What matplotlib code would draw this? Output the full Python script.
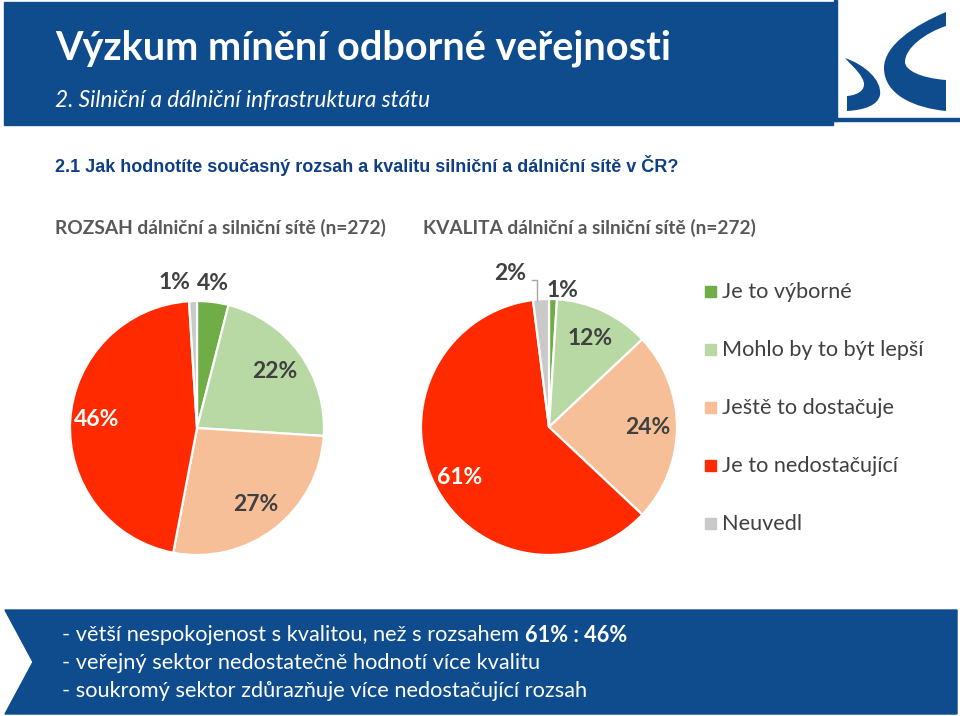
import matplotlib
matplotlib.use("Agg")
import numpy as np
import matplotlib.pyplot as plt
from matplotlib.patches import Rectangle, Polygon, PathPatch
from matplotlib.path import Path

# data
categories = ["Je to výborné", "Mohlo by to být lepší", "Ještě to dostačuje",
              "Je to nedostačující", "Neuvedl"]
colors = ["#70AD47", "#B8D9A4", "#F7BF98", "#FF2A00", "#C9C9C9"]
rozsah = [4, 22, 27, 46, 1]
kvalita = [1, 12, 24, 61, 2]
rozsah_title = "ROZSAH dálniční a silniční sítě (n=272)"
kvalita_title = "KVALITA dálniční a silniční sítě (n=272)"
notes = ["- větší nespokojenost s kvalitou, než s rozsahem ",
         "- veřejný sektor nedostatečně hodnotí více kvalitu",
         "- soukromý sektor zdůrazňuje více nedostačující rozsah"]
note_bold = "61% : 46%"

BLUE = "#0E4C8E"
W, H = 960, 716

fig = plt.figure(figsize=(9.6, 7.16), dpi=100)
bg = fig.add_axes([0, 0, 1, 1])
bg.set_xlim(0, W)
bg.set_ylim(H, 0)
bg.axis("off")

# header
bg.add_patch(Rectangle((4, 2), 829, 123, color=BLUE))
bg.text(55, 48, "Výzkum mínění odborné veřejnosti", color="white", fontsize=28.5,
        fontweight="bold", family="Lato", va="center")
bg.text(55, 100, "2. Silniční a dálniční infrastruktura státu", color="white",
        fontsize=16.3, style="italic", family="Lato", va="center")

# logo
bg.add_patch(Rectangle((834, 0), 3, 121, color=BLUE))
bg.add_patch(Rectangle((834, 118), 126, 3, color=BLUE))
c_verts = [(946, 12), (915, 25), (884, 45), (884, 68), (884, 95), (915, 108), (946, 111),
           (946, 80), (920, 78), (905, 70), (905, 62), (905, 48), (925, 33), (946, 26), (946, 12)]
c_codes = [Path.MOVETO] + [Path.CURVE4] * 6 + [Path.LINETO] + [Path.CURVE4] * 6 + [Path.CLOSEPOLY]
bg.add_patch(PathPatch(Path(c_verts, c_codes), color=BLUE, lw=0))
s_verts = [(845, 58), (865, 65), (882, 80), (880, 95), (878, 105), (865, 110), (847, 111),
           (847, 96), (860, 95), (868, 88), (862, 78), (858, 70), (850, 64), (845, 58), (845, 58)]
bg.add_patch(PathPatch(Path(s_verts, c_codes), color=BLUE, lw=0))

# question + pie titles
bg.text(55, 165, "2.1 Jak hodnotíte současný rozsah a kvalitu silniční a dálniční sítě v ČR?",
        color="#0E3F85", fontsize=13, fontweight="bold", family="Liberation Sans", va="center")
bg.text(55, 228, rozsah_title, color="#595959", fontsize=13.8, fontweight="bold",
        family="Lato", va="center")
bg.text(423, 228, kvalita_title, color="#595959", fontsize=13.8, fontweight="bold",
        family="Lato", va="center")


def draw_pie(cx, cy, r, values, lab_r, lab_dx, lab_dy, lab_col):
    ax = fig.add_axes([(cx - r) / W, (H - cy - r) / H, 2 * r / W, 2 * r / H])
    wedges, _ = ax.pie(values, colors=colors, startangle=90, counterclock=False,
                       wedgeprops=dict(edgecolor="white", linewidth=1.6))
    ax.set_xlim(-1, 1)
    ax.set_ylim(-1, 1)
    spots = []
    for w, v, rr, dx, dy, c in zip(wedges, values, lab_r, lab_dx, lab_dy, lab_col):
        mid = np.deg2rad((w.theta1 + w.theta2) / 2)
        x = rr * np.cos(mid) + dx
        y = rr * np.sin(mid) + dy
        ax.text(x, y, f"{v}%", ha="center", va="center", color=c, fontsize=16.5,
                fontweight="bold", family="Lato", clip_on=False)
        spots.append((x, y, mid))
    return ax, spots


dark = "#404040"
draw_pie(197, 428, 127, rozsah,
         [1.15, 0.76, 0.76, 0.79, 1.15], [-0.02, 0, 0, 0, -0.14], [0, 0, 0, 0.02, 0],
         [dark, dark, dark, "white", dark])
ax2, spots2 = draw_pie(549, 427, 128, kvalita,
                       [1.07, 0.76, 0.77, 0.78, 1.2], [0.075, 0, 0, 0, -0.23],
                       [0, 0, 0, -0.04, 0],
                       [dark, dark, dark, "white", dark])
# leader line for the 2% label
lx, ly, lmid = spots2[4]
ax_x = np.cos(lmid) * 1.0 - 0.03
ax2.plot([lx + 0.17, ax_x, ax_x], [ly - 0.05, ly - 0.05, 0.99], color="#A6A6A6",
         lw=1, clip_on=False)

# legend
for i, (cat, col) in enumerate(zip(categories, colors)):
    y = 292 + i * 58
    bg.add_patch(Rectangle((705, y - 6), 11, 11, color=col))
    bg.text(722, y, cat, color=dark, fontsize=15.6, family="Lato", va="center")

# bottom box with notch
bg.add_patch(Polygon([(5, 610), (957, 610), (957, 714), (5, 714), (33, 662)],
                     closed=True, color=BLUE))
note_font = dict(color="white", fontsize=15.7, family="Lato", va="center")
for i, line in enumerate(notes):
    t = bg.text(62, 635 + i * 28, line, **note_font)
    if i == 0:
        fig.canvas.draw()
        x_end = t.get_window_extent().x1
        bg.text(x_end, 635, note_bold, color="white", fontsize=15.7, fontweight="bold",
                family="Lato", va="center",
                transform=matplotlib.transforms.blended_transform_factory(
                    matplotlib.transforms.IdentityTransform(), bg.transData))

fig.savefig("out.png", dpi=100)
